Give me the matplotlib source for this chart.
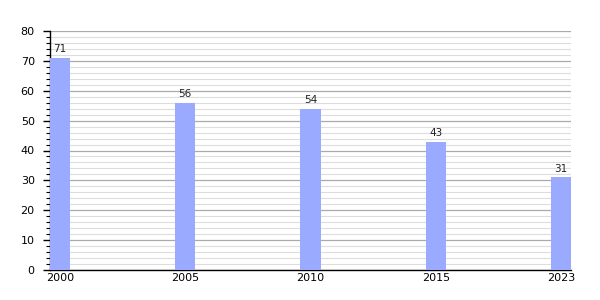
import matplotlib.pyplot as plt
from matplotlib.ticker import MultipleLocator

years = ['2000', '2005', '2010', '2015', '2023']
values = [71, 56, 54, 43, 31]

fig = plt.figure(figsize=(6, 3), dpi=100)
ax = fig.add_axes([50 / 600, 30 / 300, 521 / 600, 239 / 300])

x = range(len(years))
ax.bar(x, values, width=0.16, color='#99aaff', zorder=3)
for xi, v in zip(x, values):
    ax.text(xi, v + 1.2, str(v), ha='center', va='bottom', fontsize=7.5, color='#222222')

ax.set_xlim(-0.08, len(years) - 1 + 0.08)
ax.set_ylim(0, 80)
ax.set_xticks(list(x))
ax.set_xticklabels(years)
ax.yaxis.set_major_locator(MultipleLocator(10))
ax.yaxis.set_minor_locator(MultipleLocator(2))
ax.grid(axis='y', which='major', color='#aaaaaa', linewidth=0.9, zorder=0)
ax.grid(axis='y', which='minor', color='#dddddd', linewidth=0.8, zorder=0)
ax.set_axisbelow(True)

for s in ['top', 'right']:
    ax.spines[s].set_visible(False)
ax.spines['left'].set_linewidth(1)
ax.spines['bottom'].set_linewidth(1)
ax.tick_params(axis='y', which='major', length=5, width=1, labelsize=8, pad=6)
ax.tick_params(axis='y', which='minor', length=3, width=0.8)
ax.tick_params(axis='x', length=0, labelsize=8, pad=2)

plt.savefig('out.png', dpi=100)
plt.close()
